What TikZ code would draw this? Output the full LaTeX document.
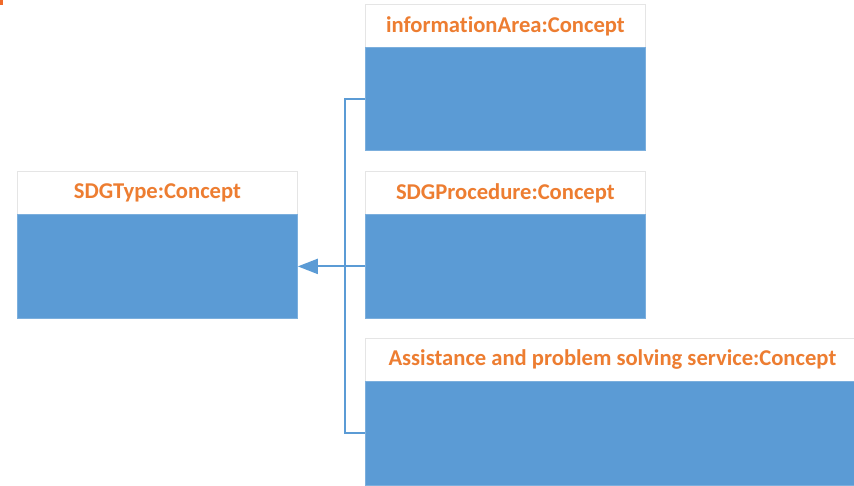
\documentclass[tikz,border=0pt]{standalone}
\usepackage{fontspec}
\setmainfont{Carlito}[RawFeature={-liga}]
\usetikzlibrary{arrows.meta}
\definecolor{umlblue}{HTML}{5B9BD5}
\definecolor{umlorange}{HTML}{ED7D31}
\tikzset{
  hdr/.style={draw=black!10, line width=0.8pt, fill=white, anchor=north west, minimum height=43pt,
    font=\fontsize{22.6}{26}\selectfont\bfseries, text=umlorange, inner sep=0pt},
  bodybox/.style={draw=umlblue!80!white, line width=0.8pt, fill=umlblue, anchor=north west, inner sep=0pt},
  conn/.style={draw=umlblue, line width=2pt},
  inh/.style={conn, -{Triangle[length=20pt,width=15pt]}}
}
\begin{document}
\begin{tikzpicture}[x=1pt,y=-1pt]
\useasboundingbox (0,0) rectangle (854,485);
\clip (0,0) rectangle (854,485);
\fill[umlorange!85!red] (0,0) rectangle (3,5);
% SDGType
\node[hdr, minimum width=280pt] (th) at (17,171) {SDGType:Concept};
\node[bodybox, minimum width=280pt, minimum height=104pt] (tb) at (17,214) {};
% informationArea
\node[hdr, minimum width=280pt] (ih) at (365,4) {informationArea:Concept};
\node[bodybox, minimum width=280pt, minimum height=103pt] (ib) at (365,47) {};
% SDGProcedure
\node[hdr, minimum width=280pt] (ph) at (365,171) {SDGProcedure:Concept};
\node[bodybox, minimum width=280pt, minimum height=104pt] (pb) at (365,214) {};
% Assistance
\node[hdr, minimum width=494pt] (ah) at (365,338) {Assistance and problem solving service:Concept};
\node[bodybox, minimum width=494pt, minimum height=104pt] (ab) at (365,381) {};
% connectors
\coordinate (j) at (345,265);
\draw[conn] (ib.west) -| (j) |- (ab.west);
\draw[inh] (pb.west) -- (tb.east);
\end{tikzpicture}
\end{document}
